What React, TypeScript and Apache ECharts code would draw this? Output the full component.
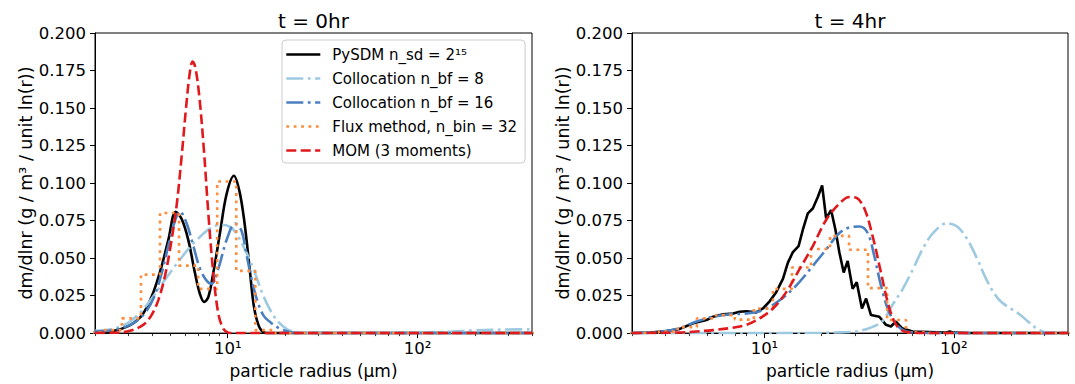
import React, { useEffect, useRef } from 'react';
import * as echarts from 'echarts';

const FONT = 'DejaVu Sans';

// ---------- t = 0 hr ----------
const pysdm0R = [2.0, 2.5, 2.82, 3.18, 3.59, 4.06, 4.49, 4.87, 5.32, 5.72, 6.2, 6.72, 7.14, 7.5, 7.9, 8.4, 9.1, 9.87, 10.78, 11.5, 12.2, 13.0, 13.7, 14.5, 15.4, 16.7, 20, 400];
const pysdm0V = [0.0007, 0.0015, 0.0033, 0.0066, 0.0131, 0.0273, 0.0448, 0.0623, 0.0809, 0.076, 0.062, 0.04, 0.026, 0.0208, 0.024, 0.0404, 0.0667, 0.0929, 0.1049, 0.0951, 0.0754, 0.0448, 0.0186, 0.0055, 0.0007, 0, 0, 0];

const coll8_0R = [2.0, 2.5, 3.06, 3.74, 4.58, 5.6, 6.86, 8.39, 9.47, 10.69, 12.07, 13.63, 15.38, 17.36, 19.6, 22.1, 30, 50, 100, 150, 200, 300, 400];
const coll8_0V = [0.0015, 0.003, 0.0077, 0.0186, 0.034, 0.049, 0.062, 0.071, 0.072, 0.069, 0.058, 0.043, 0.025, 0.012, 0.0044, 0.001, 0.0002, 0.0001, 0.0004, 0.001, 0.0018, 0.0024, 0.0025];

const coll16_0R = [2.0, 2.5, 3.06, 3.59, 4.06, 4.49, 4.86, 5.28, 5.6, 6.08, 6.59, 7.14, 7.74, 8.23, 8.92, 9.86, 10.91, 11.83, 12.57, 13.36, 14.19, 15.38, 17.0, 18.8, 20.8, 23.0, 400];
const coll16_0V = [0.001, 0.002, 0.0055, 0.012, 0.023, 0.04, 0.058, 0.075, 0.081, 0.073, 0.058, 0.043, 0.035, 0.033, 0.043, 0.062, 0.073, 0.068, 0.052, 0.036, 0.023, 0.012, 0.0066, 0.003, 0.001, 0, 0];

const mom0R = [2.0, 2.5, 3.06, 3.59, 3.97, 4.31, 4.67, 5.0, 5.38, 5.72, 6.03, 6.32, 6.53, 6.75, 7.08, 7.49, 7.9, 8.39, 8.92, 9.47, 10.07, 10.69, 400];
const mom0V = [0.0001, 0.0002, 0.0015, 0.0055, 0.012, 0.022, 0.038, 0.058, 0.085, 0.118, 0.15, 0.174, 0.181, 0.177, 0.158, 0.122, 0.08, 0.04, 0.013, 0.003, 0.0003, 0, 0];

// flux-method bin edges (radius, µm) and bin levels
const fluxEdges = [1.75, 2.2, 2.77, 3.49, 4.4, 5.54, 6.98, 8.8, 11.09, 13.97, 17.61, 22.19, 27.96, 35.2, 44.4, 55.9, 70.5, 88.8, 111.9, 141, 177.6, 223.8, 282, 355, 448];
const flux0Levels = [0.0005, 0.002, 0.0098, 0.039, 0.08, 0.045, 0.0295, 0.101, 0.0415, 0.002, 0, 0, 0, 0, 0, 0, 0, 0, 0, 0, 0, 0, 0, 0];

// ---------- t = 4 hr ----------
const pysdm4R = [2.0, 2.5, 3.0, 3.58, 4.21, 4.94, 5.36, 6.05, 6.83, 7.4, 8.03, 9.06, 9.82, 10.65, 11.54, 12.52, 13.3, 14.13, 15.14, 15.95, 16.94, 18.0, 19.13, 20.16, 21.16, 22.48, 23.7, 24.87, 26.2, 27.5, 29.2, 30.7, 32.7, 34.4, 36.5, 40.4, 43.8, 46.5, 49.4, 53.2, 60.5, 74, 90, 95, 100, 120, 400];
const pysdm4V = [0, 0.0003, 0.0012, 0.0028, 0.0066, 0.0087, 0.0109, 0.0125, 0.0131, 0.0142, 0.0146, 0.0138, 0.0164, 0.0212, 0.0273, 0.0361, 0.047, 0.054, 0.058, 0.0689, 0.0798, 0.083, 0.0907, 0.0984, 0.0765, 0.082, 0.0689, 0.0536, 0.0404, 0.0481, 0.0295, 0.0339, 0.0164, 0.023, 0.012, 0.0109, 0.0055, 0.0044, 0.0077, 0.0033, 0.0011, 0.0007, 0.0003, 0.001, 0.0003, 0, 0];

const coll8_4R = [2.0, 10, 20, 25, 30.3, 37, 42, 47.5, 54, 61, 69, 78, 92, 104, 118, 133, 151, 171, 193, 219, 247, 280, 317, 400];
const coll8_4V = [0, 0, 0.0002, 0.0005, 0.001, 0.004, 0.008, 0.019, 0.03, 0.043, 0.057, 0.067, 0.0732, 0.071, 0.0623, 0.0492, 0.0338, 0.023, 0.0174, 0.0131, 0.0076, 0.0022, 0, 0];

const coll16_4R = [2.0, 2.5, 3.0, 3.58, 4.38, 5.36, 6.56, 8.03, 9.82, 12.02, 14.71, 18.0, 21.16, 24.87, 28.08, 31.7, 35.06, 38.0, 41.2, 44.68, 48.43, 53.6, 60.5, 70, 400];
const coll16_4V = [0, 0.0004, 0.0013, 0.0033, 0.0077, 0.0109, 0.0125, 0.0131, 0.0153, 0.0219, 0.0317, 0.0448, 0.0557, 0.0667, 0.0704, 0.071, 0.0667, 0.0514, 0.0317, 0.0164, 0.0077, 0.0022, 0.0004, 0, 0];

const mom4R = [2.0, 2.5, 3.58, 4.38, 5.36, 6.56, 8.03, 9.43, 11.09, 13.03, 15.32, 18.0, 21.16, 24.87, 28.08, 30.44, 33.68, 37.26, 41.2, 44.68, 48.43, 52.52, 58.1, 70, 400];
const mom4V = [0, 0.0001, 0.0004, 0.0011, 0.002, 0.0033, 0.0055, 0.0098, 0.0164, 0.0273, 0.0426, 0.058, 0.0754, 0.0863, 0.0907, 0.0903, 0.083, 0.0645, 0.0404, 0.0208, 0.0077, 0.0022, 0.0004, 0, 0];

const flux4Levels = [0, 0.0003, 0.001, 0.004, 0.0098, 0.012, 0.009, 0.0164, 0.0295, 0.0437, 0.056, 0.0648, 0.0555, 0.03, 0.0087, 0.0005, 0, 0, 0, 0, 0, 0, 0, 0];

// ---------- axes / labels ----------
const seriesNames = ['PySDM n_sd = 2¹⁵', 'Collocation n_bf = 8', 'Collocation n_bf = 16', 'Flux method, n_bin = 32', 'MOM (3 moments)'];
const panelTitles = ['t = 0hr', 't = 4hr'];
const majorTicks = [10, 100];
const minorTicks = [2, 3, 4, 5, 6, 7, 8, 9, 20, 30, 40, 50, 60, 70, 80, 90, 200, 300, 400];
const xLabel = 'particle radius (µm)';
const yLabel = 'dm/dlnr (g / m³ / unit ln(r))';

const colors = ['#000000', '#9ecae1', '#4a7fc0', '#fd8d3c', '#e0191d'];
const dashes: any[] = ['solid', [17, 4.5, 2.8, 4.5], [17, 4.5, 2.8, 4.5], [2.8, 4.6], [10, 4.4]];

const pairs = (r: number[], v: number[]) => r.map((x, i) => [x, v[i]]);
const stairs = (edges: number[], levels: number[]) => {
  const out: number[][] = [];
  levels.forEach((l, i) => {
    out.push([edges[i], l], [edges[i + 1], l]);
  });
  return out;
};

const sup: Record<string, string> = { '0': '⁰', '1': '¹', '2': '²', '3': '³' };

export default function App() {
  const ref = useRef<HTMLDivElement>(null);
  useEffect(() => {
    const chart = echarts.init(ref.current!, null, { renderer: 'svg' });
    const grids = [
      { left: 95, top: 33, width: 437, height: 305 },
      { left: 632, top: 33, width: 436, height: 305 },
    ];
    const xAxes: any[] = [];
    const yAxes: any[] = [];
    grids.forEach((_, g) => {
      xAxes.push({
        type: 'log', logBase: 10, gridIndex: g, min: 2, max: 400, position: 'bottom',
        axisLine: { show: true, onZero: false, lineStyle: { color: '#000', width: 1 } },
        axisTick: { show: true, length: 5, customValues: majorTicks, lineStyle: { color: '#000', width: 1 } },
        axisLabel: {
          show: true, customValues: majorTicks, margin: 7, color: '#000', fontSize: 16.5, fontFamily: FONT,
          formatter: (v: number) => '10' + String(Math.round(Math.log10(v))).split('').map((c) => sup[c]).join(''),
        },
        splitLine: { show: false }, minorTick: { show: false }, minorSplitLine: { show: false },
        name: xLabel, nameLocation: 'middle', nameGap: 26,
        nameTextStyle: { color: '#000', fontSize: 17, fontFamily: FONT },
      });
      xAxes.push({
        type: 'log', logBase: 10, gridIndex: g, min: 2, max: 400, position: 'bottom',
        axisLine: { show: false, onZero: false },
        axisTick: { show: true, length: 3, customValues: minorTicks, lineStyle: { color: '#000', width: 0.8 } },
        axisLabel: { show: false },
        splitLine: { show: false }, minorTick: { show: false },
      });
      yAxes.push({
        type: 'value', gridIndex: g, min: 0, max: 0.2, interval: 0.025,
        axisLine: { show: true, onZero: false, lineStyle: { color: '#000', width: 1 } },
        axisTick: { show: true, length: 5, lineStyle: { color: '#000', width: 1 } },
        axisLabel: { formatter: (v: number) => v.toFixed(3), margin: 9, color: '#000', fontSize: 16.5, fontFamily: FONT },
        splitLine: { show: false },
        name: yLabel, nameLocation: 'middle', nameGap: 59, nameRotate: 90,
        nameTextStyle: { color: '#000', fontSize: 17.5, fontFamily: FONT },
      });
    });

    const panelData = [
      [pairs(pysdm0R, pysdm0V), pairs(coll8_0R, coll8_0V), pairs(coll16_0R, coll16_0V), stairs(fluxEdges, flux0Levels), pairs(mom0R, mom0V)],
      [pairs(pysdm4R, pysdm4V), pairs(coll8_4R, coll8_4V), pairs(coll16_4R, coll16_4V), stairs(fluxEdges, flux4Levels), pairs(mom4R, mom4V)],
    ];
    const series: any[] = [];
    panelData.forEach((list, g) => {
      list.forEach((data, k) => {
        const smooth = k === 3 ? false : (g === 1 && k === 0 ? false : 0.35);
        series.push({
          type: 'line', name: seriesNames[k], xAxisIndex: g * 2, yAxisIndex: g,
          data, showSymbol: false, symbol: 'none', smooth, z: 2 + k,
          lineStyle: { color: colors[k], width: 2.6, type: dashes[k] },
          itemStyle: { color: colors[k] },
        });
      });
    });

    chart.setOption({
      animation: false,
      textStyle: { fontFamily: FONT },
      grid: grids.map((gr) => ({ ...gr, show: true, borderColor: '#000', borderWidth: 1, backgroundColor: 'transparent' })),
      xAxis: xAxes,
      yAxis: yAxes,
      legend: {
        data: seriesNames, orient: 'vertical', left: 282, top: 40,
        itemWidth: 34, itemHeight: 14, itemGap: 9,
        padding: [7, 8, 5, 3],
        backgroundColor: 'rgba(255,255,255,0.8)', borderColor: '#cccccc', borderWidth: 1, borderRadius: 4,
        textStyle: { fontSize: 15, fontFamily: FONT, color: '#000', lineHeight: 14, padding: [0, 0, 0, 7] },
        lineStyle: { width: 2.6 },
        itemStyle: { opacity: 0 },
        selectedMode: false,
      },
      graphic: panelTitles.map((t, g) => ({
        type: 'text', x: grids[g].left + grids[g].width / 2, y: 21,
        style: { text: t, fontSize: 20, fontFamily: FONT, fill: '#000', align: 'center', verticalAlign: 'middle' },
      })),
      series,
    });
    return () => chart.dispose();
  }, []);
  return <div ref={ref} style={{ position: 'absolute', left: 0, top: 0, width: 1075, height: 384 }} />;
}
